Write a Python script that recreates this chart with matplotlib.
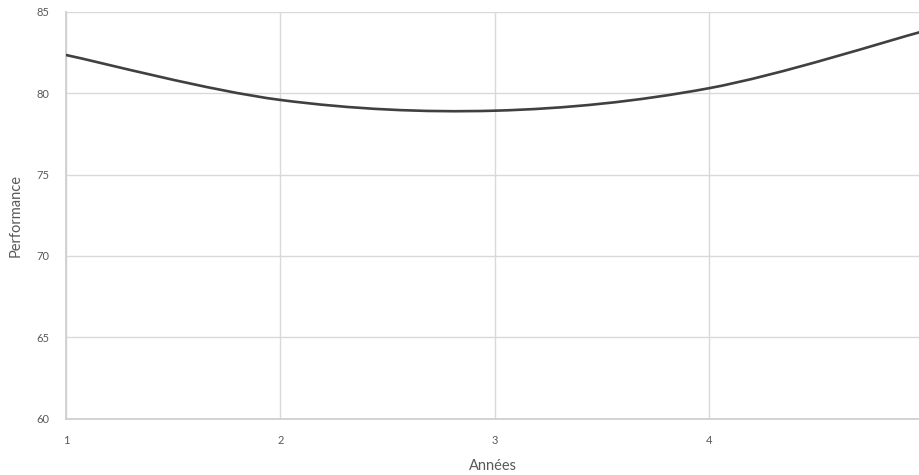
import numpy as np
import matplotlib
matplotlib.use("Agg")
import matplotlib.pyplot as plt
from matplotlib.path import Path
from matplotlib.patches import PathPatch

plt.rcParams['font.family'] = ['Lato', 'DejaVu Sans']

# data
years = [1, 2, 3, 4, 5]
performance = [82.34, 79.58, 78.92, 80.30, 83.80]
y_ticks = [60, 65, 70, 75, 80, 85]
x_ticks = [1, 2, 3, 4]

GRID = '#d9d9d9'
TEXT = '#595959'
LINE = '#404040'


def smooth_path(x, y, tension=1.0 / 6):
    """Bezier path through the points, Excel-like smoothing."""
    x = np.asarray(x, float)
    y = np.asarray(y, float)
    n = len(x)
    verts = [(x[0], y[0])]
    codes = [Path.MOVETO]
    for i in range(n - 1):
        p0 = i - 1 if i > 0 else i
        p3 = i + 2 if i + 2 < n else i + 1
        c1 = (x[i] + (x[i + 1] - x[p0]) * tension,
              y[i] + (y[i + 1] - y[p0]) * tension)
        c2 = (x[i + 1] - (x[p3] - x[i]) * tension,
              y[i + 1] - (y[p3] - y[i]) * tension)
        verts += [c1, c2, (x[i + 1], y[i + 1])]
        codes += [Path.CURVE4] * 3
    return Path(verts, codes)


fig = plt.figure(figsize=(9.19, 4.75), dpi=100)
ax = fig.add_axes([66 / 919, 56.3 / 475, 1 - 66 / 919, (463.3 - 56.3) / 475])

patch = PathPatch(smooth_path(years, performance), facecolor='none',
                  edgecolor=LINE, linewidth=1.9, capstyle='round', zorder=3)
ax.add_patch(patch)

ax.set_xlim(1, 4.98)
ax.set_ylim(60, 85)
ax.set_xticks(x_ticks)
ax.set_yticks(y_ticks)
ax.grid(True, color=GRID, linewidth=1.0)
ax.set_axisbelow(True)
for side in ['top', 'right']:
    ax.spines[side].set_visible(False)
for side in ['left', 'bottom']:
    ax.spines[side].set_color('#d0d0d0')
    ax.spines[side].set_linewidth(1.3)
ax.tick_params(length=0, labelsize=8, colors=TEXT, pad=10)
ax.tick_params(axis='y', pad=12)
ax.tick_params(axis='x', pad=12)

ax.set_xlabel('Années', fontsize=10.5, color=TEXT, labelpad=9)
ax.set_ylabel('Performance', fontsize=10.5, color=TEXT, labelpad=10)

fig.savefig('out.png', dpi=100)
